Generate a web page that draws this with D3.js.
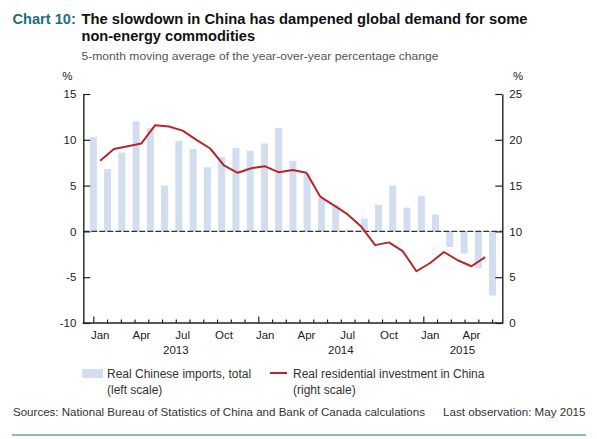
<html>
<head>
<meta charset="utf-8">
<style>
    body { margin: 0; background: white; }
    text { font-family: "Liberation Sans", Arial, sans-serif; }
</style>
</head>
<body>
    <svg id="container" width="597" height="439">
        <g id="body" />
    </svg>
</body>
<script src="https://cdn.jsdelivr.net/npm/d3@7"></script>
<script>
    // monthly data, Jan 2013 .. May 2015
    let months = d3.range(29)
    let imports = [10.3, 6.8, 8.6, 12.0, 11.3, 5.0, 9.9, 9.0, 7.0, 8.1, 9.1, 8.8,
        9.6, 11.3, 7.7, 6.3, 3.6, 2.9, 0.2, 1.4, 2.9, 5.0, 2.6, 3.9,
        1.85, -1.7, -2.4, -4.0, -7.0]
    let investment = [17.7, 19.0, 19.3, 19.6, 21.6, 21.45, 21.0, 20.0, 19.05, 17.2, 16.4, 16.9,
        17.1, 16.45, 16.7, 16.4, 13.8, 12.85, 11.85, 10.5, 8.5, 8.8, 7.85, 5.65,
        6.55, 7.75, 6.85, 6.2, 7.2]
    let leftTicks = [-10, -5, 0, 5, 10, 15]
    let rightTicks = [0, 5, 10, 15, 20, 25]
    let monthLabels = [[0, "Jan"], [3, "Apr"], [6, "Jul"], [9, "Oct"], [12, "Jan"], [15, "Apr"],
        [18, "Jul"], [21, "Oct"], [24, "Jan"], [27, "Apr"]]
    let yearLabels = [[6, "2013"], [18, "2014"], [26.85, "2015"]]

    let body = d3.select("#body")
    let plotLeft = 83.3, plotRight = 502.3, plotTop = 94, plotBottom = 323
    let barColor = "#d2ddef"
    let lineColor = "#b3282d"
    let axisColor = "#222"

    let yL = d3.scaleLinear().domain([-10, 15]).range([plotBottom, plotTop])
    let yR = d3.scaleLinear().domain([0, 25]).range([plotBottom, plotTop])
    // month boundaries for ticks and labels
    let xm = d3.scaleLinear().domain([0, 29]).range([93.3, 492.05])
    // bar positions
    let xb = d3.scalePoint().domain(months).range([93.3, 492.6])

    // title
    body.append("text").attr("x", 12.5).attr("y", 23.5)
        .attr("font-size", 14.6).attr("font-weight", "bold").attr("fill", "#1d7079")
        .text("Chart 10:")
    body.append("text").attr("x", 81.5).attr("y", 23.5)
        .attr("font-size", 14.6).attr("font-weight", "bold").attr("fill", "#111")
        .attr("textLength", 446).attr("lengthAdjust", "spacingAndGlyphs")
        .text("The slowdown in China has dampened global demand for some")
    body.append("text").attr("x", 81.5).attr("y", 40.5)
        .attr("font-size", 14.6).attr("font-weight", "bold").attr("fill", "#111")
        .text("non-energy commodities")
    body.append("text").attr("x", 81.5).attr("y", 59.5)
        .attr("font-size", 11.2).attr("fill", "#555")
        .attr("textLength", 357).attr("lengthAdjust", "spacingAndGlyphs")
        .text("5-month moving average of the year-over-year percentage change")

    body.append("text").attr("x", 72.5).attr("y", 80).attr("text-anchor", "end")
        .attr("font-size", 11.5).attr("fill", "#222").text("%")
    body.append("text").attr("x", 513).attr("y", 80)
        .attr("font-size", 11.5).attr("fill", "#222").text("%")

    // bars
    body.selectAll("rect.bar").data(months)
        .enter().append("rect")
        .attr("class", "bar")
        .attr("x", d => xb(d) - 3.5)
        .attr("width", 7)
        .attr("y", d => Math.min(yL(imports[d]), yL(0)))
        .attr("height", d => Math.abs(yL(imports[d]) - yL(0)))
        .attr("fill", barColor)

    // zero line
    body.append("line")
        .attr("x1", plotLeft).attr("x2", plotRight)
        .attr("y1", yL(0)).attr("y2", yL(0))
        .attr("stroke", "#333").attr("stroke-width", 1.2)
        .attr("stroke-dasharray", "6,2")

    // line
    let line = d3.line()
        .x((d, i) => xm(i + 0.5))
        .y(d => yR(d))
    body.append("path").datum(investment)
        .attr("d", line)
        .attr("fill", "none")
        .attr("stroke", lineColor)
        .attr("stroke-width", 2)
        .attr("stroke-linejoin", "round")

    // axes
    let leftAxis = d3.axisLeft(yL).tickValues(leftTicks).tickFormat(d => String(d))
        .tickSize(-7).tickSizeOuter(0).tickPadding(7)
    let gl = body.append("g").attr("transform", `translate(${plotLeft},0)`).call(leftAxis)
    let rightAxis = d3.axisRight(yR).tickValues(rightTicks).tickFormat(d => String(d))
        .tickSize(-7).tickSizeOuter(0).tickPadding(7)
    let gr = body.append("g").attr("transform", `translate(${plotRight},0)`).call(rightAxis)
    ;[gl, gr].forEach(g => {
        g.selectAll("text").attr("font-size", 11.5).attr("fill", "#222")
            .attr("font-family", "Liberation Sans, Arial, sans-serif")
        g.selectAll("line").attr("stroke", axisColor).attr("stroke-width", 1.2)
        g.select(".domain").attr("stroke", axisColor).attr("stroke-width", 1.4)
    })

    let bottomAxis = d3.axisBottom(xm).tickValues(d3.range(0, 30)).tickSize(-3.5).tickFormat("")
    let gb = body.append("g").attr("transform", `translate(0,${plotBottom})`).call(bottomAxis)
    gb.select(".domain").remove()
    gb.selectAll(".tick line").attr("stroke", axisColor).attr("stroke-width", 1.2)
        .filter(d => d % 12 === 0).attr("y2", -6.5)
    body.append("line")
        .attr("x1", plotLeft - 0.7).attr("x2", plotRight + 0.7)
        .attr("y1", plotBottom).attr("y2", plotBottom)
        .attr("stroke", axisColor).attr("stroke-width", 1.4)

    body.selectAll("text.month").data(monthLabels)
        .enter().append("text")
        .attr("class", "month")
        .attr("x", d => xm(d[0] + 0.5))
        .attr("y", 339)
        .attr("text-anchor", "middle")
        .attr("font-size", 11.5).attr("fill", "#222")
        .text(d => d[1])
    body.selectAll("text.year").data(yearLabels)
        .enter().append("text")
        .attr("class", "year")
        .attr("x", d => xm(d[0]))
        .attr("y", 354)
        .attr("text-anchor", "middle")
        .attr("font-size", 11.5).attr("fill", "#222")
        .text(d => d[1])

    // legend
    body.append("rect").attr("x", 82).attr("y", 369).attr("width", 21).attr("height", 9)
        .attr("fill", barColor)
    body.append("text").attr("x", 107).attr("y", 377.5).attr("font-size", 12).attr("fill", "#333")
        .text("Real Chinese imports, total")
    body.append("text").attr("x", 107).attr("y", 393.5).attr("font-size", 12).attr("fill", "#333")
        .text("(left scale)")
    body.append("line").attr("x1", 270).attr("x2", 287).attr("y1", 373).attr("y2", 373)
        .attr("stroke", lineColor).attr("stroke-width", 2)
    body.append("text").attr("x", 293).attr("y", 377.5).attr("font-size", 12).attr("fill", "#333")
        .text("Real residential investment in China")
    body.append("text").attr("x", 293).attr("y", 393.5).attr("font-size", 12).attr("fill", "#333")
        .text("(right scale)")

    // footer
    body.append("text").attr("x", 13).attr("y", 416).attr("font-size", 11.3).attr("fill", "#333")
        .attr("textLength", 412).attr("lengthAdjust", "spacingAndGlyphs")
        .text("Sources: National Bureau of Statistics of China and Bank of Canada calculations")
    body.append("text").attr("x", 585.5).attr("y", 416).attr("text-anchor", "end")
        .attr("font-size", 11.6).attr("fill", "#333")
        .text("Last observation: May 2015")
    body.append("line").attr("x1", 12).attr("x2", 586).attr("y1", 435).attr("y2", 435)
        .attr("stroke", "#5fa9a9").attr("stroke-width", 1.6)
</script>
</html>
